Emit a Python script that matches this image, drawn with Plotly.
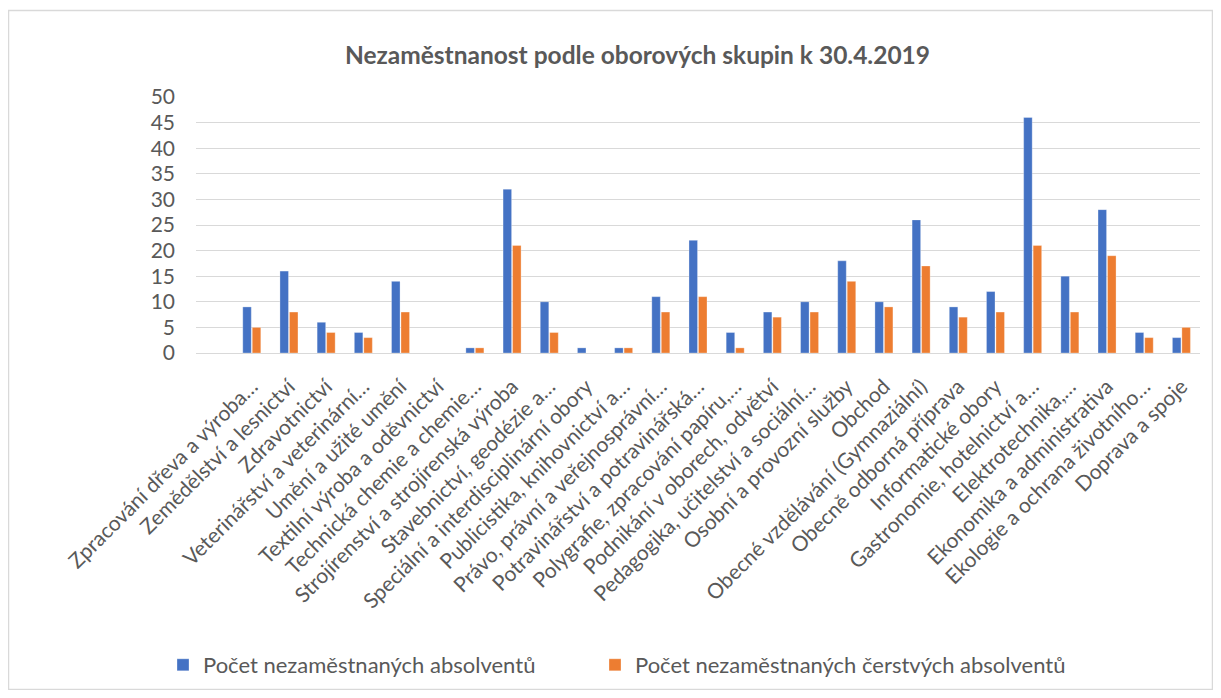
import plotly.graph_objects as go

categories = [
    "Zpracování dřeva a výroba…",
    "Zemědělství a lesnictví",
    "Zdravotnictví",
    "Veterinářství a veterinární…",
    "Umění a užité umění",
    "Textilní výroba a oděvnictví",
    "Technická chemie a chemie…",
    "Strojírenství a strojírenská výroba",
    "Stavebnictví, geodézie a…",
    "Speciální a interdisciplinární obory",
    "Publicistika, knihovnictví a…",
    "Právo, právní a veřejnosprávní…",
    "Potravinářství a potravinářská…",
    "Polygrafie, zpracování papíru,…",
    "Podnikání v oborech, odvětví",
    "Pedagogika, učitelství a sociální…",
    "Osobní a provozní služby",
    "Obchod",
    "Obecné vzdělávání (Gymnaziální)",
    "Obecně odborná příprava",
    "Informatické obory",
    "Gastronomie, hotelnictví a…",
    "Elektrotechnika,…",
    "Ekonomika a administrativa",
    "Ekologie a ochrana životního…",
    "Doprava a spoje",
]
absolventi = [9, 16, 6, 4, 14, 0, 1, 32, 10, 1, 1, 11, 22, 4, 8, 10, 18, 10, 26, 9, 12, 46, 15, 28, 4, 3]
cerstvi = [5, 8, 4, 3, 8, 0, 1, 21, 4, 0, 1, 8, 11, 1, 7, 8, 14, 9, 17, 7, 8, 21, 8, 19, 3, 5]

series_names = ["Počet nezaměstnaných absolventů", "Počet nezaměstnaných čerstvých absolventů"]
colors = ["#4472C4", "#ED7D31"]
legend_ids = ["legend", "legend2"]

FONT = "Lato"
GREY = "#595959"

fig = go.Figure()
for name, vals, col, lg in zip(series_names, [absolventi, cerstvi], colors, legend_ids):
    fig.add_trace(go.Bar(
        x=categories, y=vals, name=name, legend=lg, showlegend=True,
        marker=dict(color=col, line=dict(color="rgba(255,255,255,0.6)", width=0.5)),
    ))

# page body has an 8px margin; figure sized to fit the window
OFF = 8
W, H = 1205, 682
plot_left, plot_right = 196 - OFF, 1200 - OFF
plot_top, plot_bottom = 97 - OFF, 353 - OFF
L, R, T, B = plot_left, W - plot_right, plot_top, H - plot_bottom
pw = plot_right - plot_left
ph = plot_bottom - plot_top

def px_x(x):
    return (x - L) / pw

def px_y(y):
    return (plot_bottom - y) / ph

def legend_at(x_page):
    return dict(
        orientation="h", xref="container", yref="container",
        x=(x_page - OFF) / W, y=1 - (665 - OFF) / H, xanchor="left", yanchor="middle",
        font=dict(family=FONT, size=22, color=GREY),
        itemclick=False, itemdoubleclick=False, bgcolor="rgba(0,0,0,0)",
    )

fig.update_layout(
    width=W, height=H,
    showlegend=True,
    margin=dict(l=L, r=R, t=T, b=B, autoexpand=False),
    paper_bgcolor="white", plot_bgcolor="white",
    barmode="group", bargap=0.49, bargroupgap=0.1,
    font=dict(family=FONT, color=GREY),
    title=dict(
        text="<b>Nezaměstnanost podle oborových skupin k 30.4.2019</b>",
        x=(637.5 - OFF) / W, xref="container", y=1 - (55 - OFF) / H, yref="container",
        xanchor="center", yanchor="middle",
        font=dict(family=FONT, size=24.5, color=GREY),
    ),
    xaxis=dict(
        type="category", range=[-1.5, len(categories) - 0.5],
        tickangle=-45, tickfont=dict(family=FONT, size=21, color=GREY),
        showgrid=False, showline=True, linecolor="#d9d9d9", linewidth=1,
        ticks="", ticklabelstandoff=12, automargin=False,
    ),
    yaxis=dict(
        range=[0, 50], dtick=5, tick0=0,
        tickfont=dict(family=FONT, size=21, color=GREY),
        showgrid=True, gridcolor="#d9d9d9", gridwidth=1,
        zeroline=False, showline=False, ticks="", ticklabelstandoff=20,
        automargin=False,
    ),
    legend=legend_at(163),
    legend2=legend_at(595),
    shapes=[dict(
        type="rect", xref="paper", yref="paper",
        x0=px_x(0.5), x1=px_x(W - 0.5), y0=px_y(H - 0.5), y1=px_y(2.5),
        line=dict(color="#d9d9d9", width=1.5), fillcolor="rgba(0,0,0,0)", layer="below",
    )],
)

fig.write_html("out.html")
